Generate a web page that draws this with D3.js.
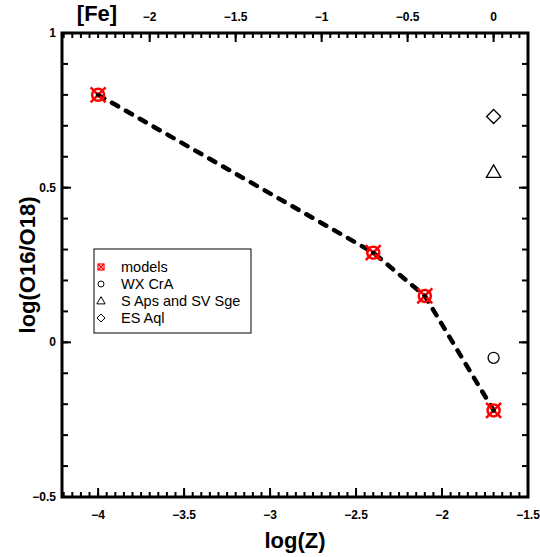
<!DOCTYPE html>
<html><head><meta charset="utf-8">
<script src="https://cdn.jsdelivr.net/npm/d3@7"></script>
</head><body style="margin:0;background:#fff">
<svg id="c" width="540" height="557" font-family="Arial, 'Liberation Sans', sans-serif"></svg>
<script>
const modelLogZ = [-4, -2.4, -2.1, -1.7];
const modelRatio = [0.80, 0.29, 0.15, -0.22];
const wxCrA = [[-1.7, -0.05]];
const sApsSvSge = [[-1.7, 0.55]];
const esAql = [[-1.7, 0.73]];
const xTicks = [-4, -3.5, -3, -2.5, -2, -1.5];
const feTicks = [-2, -1.5, -1, -0.5, 0];
const yTicks = [-0.5, 0, 0.5, 1];
const feOffset = 1.7;
const legendLabels = ["models", "WX CrA", "S Aps and SV Sge", "ES Aql"];

const svg = d3.select("#c");
const L = 62, R = 528, T = 33, B = 497;
const x = d3.scaleLinear().domain([-4.21, -1.5]).range([L, R]);
const xFe = d3.scaleLinear().domain([-4.21 + feOffset, -1.5 + feOffset]).range([L, R]);
const y = d3.scaleLinear().domain([-0.5, 1]).range([B, T]);

function minorVals(dom, step) {
  const a = [];
  const s = Math.ceil(dom[0] / step - 1e-9), e = Math.floor(dom[1] / step + 1e-9);
  for (let i = s; i <= e; i++) a.push(+(i * step).toFixed(4));
  return a;
}
const fmt = d3.format("");

// frame
svg.append("rect").attr("x", L).attr("y", T).attr("width", R - L).attr("height", B - T)
  .attr("fill", "none").attr("stroke", "#000").attr("stroke-width", 3);

function hTicks(scale, vals, yy, len) {
  svg.append("g").selectAll("line").data(vals).enter().append("line")
    .attr("x1", d => scale(d)).attr("x2", d => scale(d))
    .attr("y1", yy).attr("y2", yy + len)
    .attr("stroke", "#000").attr("stroke-width", 2);
}
function vTicks(scale, vals, xx, len) {
  svg.append("g").selectAll("line").data(vals).enter().append("line")
    .attr("y1", d => scale(d)).attr("y2", d => scale(d))
    .attr("x1", xx).attr("x2", xx + len)
    .attr("stroke", "#000").attr("stroke-width", 2);
}
hTicks(x, minorVals(x.domain(), 0.05), B, -5);
hTicks(x, xTicks, B, -9);
hTicks(xFe, minorVals(xFe.domain(), 0.05), T, 5);
hTicks(xFe, feTicks, T, 9);
vTicks(y, minorVals(y.domain(), 0.1), L, 6);
vTicks(y, yTicks, L, 9);
vTicks(y, minorVals(y.domain(), 0.1), R, -6);
vTicks(y, yTicks, R, -9);

// tick labels
svg.append("g").selectAll("text").data(xTicks).enter().append("text")
  .attr("x", d => x(d)).attr("y", 519).attr("text-anchor", "middle")
  .attr("font-size", 12).attr("font-weight", "bold").attr("fill", "#000").text(d => fmt(d));
svg.append("g").selectAll("text").data(feTicks).enter().append("text")
  .attr("x", d => xFe(d)).attr("y", 21).attr("text-anchor", "middle")
  .attr("font-size", 12).attr("font-weight", "bold").attr("fill", "#000").text(d => fmt(d));
svg.append("g").selectAll("text").data(yTicks).enter().append("text")
  .attr("x", 56).attr("y", d => y(d) + 4).attr("text-anchor", "end")
  .attr("font-size", 12).attr("font-weight", "bold").attr("fill", "#000").text(d => fmt(d));

// axis titles
svg.append("text").attr("x", (L + R) / 2).attr("y", 548).attr("text-anchor", "middle")
  .attr("font-size", 22).attr("font-weight", "bold").text("log(Z)");
svg.append("text").attr("transform", `translate(35,${(T + B) / 2}) rotate(-90)`).attr("text-anchor", "middle")
  .attr("font-size", 22).attr("font-weight", "bold").text("log(O16/O18)");
svg.append("text").attr("x", 97).attr("y", 21).attr("text-anchor", "middle")
  .attr("font-size", 22).attr("font-weight", "bold").text("[Fe]");

// model dashed line
const pts = modelLogZ.map((d, i) => [d, modelRatio[i]]);
svg.append("path").datum(pts)
  .attr("d", d3.line().x(d => x(d[0])).y(d => y(d[1])))
  .attr("fill", "none").attr("stroke", "#000").attr("stroke-width", 4.5)
  .attr("stroke-dasharray", "7,9").attr("stroke-linecap", "round");

function modelMarker(sel, cx, cy, r) {
  sel.append("circle").attr("cx", cx).attr("cy", cy).attr("r", r)
    .attr("fill", "none").attr("stroke", "#f00").attr("stroke-width", 2.5);
  const k = r * 1.25;
  sel.append("path").attr("d", `M${cx - k},${cy - k}L${cx + k},${cy + k}M${cx - k},${cy + k}L${cx + k},${cy - k}`)
    .attr("stroke", "#f00").attr("stroke-width", 2.5);
  sel.append("circle").attr("cx", cx).attr("cy", cy).attr("r", 2.2).attr("fill", "#000");
}
const mg = svg.append("g");
pts.forEach(d => modelMarker(mg, x(d[0]), y(d[1]), 6));

svg.selectAll(".wx").data(wxCrA).enter().append("circle")
  .attr("cx", d => x(d[0])).attr("cy", d => y(d[1])).attr("r", 5.5)
  .attr("fill", "none").attr("stroke", "#000").attr("stroke-width", 1.3);
const tri = d3.symbol().type(d3.symbolTriangle).size(90);
svg.selectAll(".sa").data(sApsSvSge).enter().append("path")
  .attr("transform", d => `translate(${x(d[0])},${y(d[1]) + 1})`).attr("d", tri)
  .attr("fill", "none").attr("stroke", "#000").attr("stroke-width", 1.3);
svg.selectAll(".es").data(esAql).enter().append("path")
  .attr("transform", d => `translate(${x(d[0])},${y(d[1])})`)
  .attr("d", "M0,-7L7,0L0,7L-7,0Z")
  .attr("fill", "none").attr("stroke", "#000").attr("stroke-width", 1.3);

// legend
const lg = svg.append("g");
lg.append("rect").attr("x", 94).attr("y", 249).attr("width", 157).attr("height", 84)
  .attr("fill", "#fff").attr("stroke", "#000").attr("stroke-width", 1);
const ly0 = 267, dy = 17, sx = 101, tx0 = 121;
lg.append("rect").attr("x", sx - 3).attr("y", ly0 - 3).attr("width", 6).attr("height", 6)
  .attr("fill", "none").attr("stroke", "#f00").attr("stroke-width", 1.2);
lg.append("path").attr("d", `M${sx - 3},${ly0 - 3}L${sx + 3},${ly0 + 3}M${sx - 3},${ly0 + 3}L${sx + 3},${ly0 - 3}`)
  .attr("stroke", "#f00").attr("stroke-width", 1.2);
lg.append("circle").attr("cx", sx).attr("cy", ly0 + dy).attr("r", 3)
  .attr("fill", "none").attr("stroke", "#000").attr("stroke-width", 1);
lg.append("path").attr("transform", `translate(${sx},${ly0 + 2 * dy + 0.5})`)
  .attr("d", d3.symbol().type(d3.symbolTriangle).size(30))
  .attr("fill", "none").attr("stroke", "#000").attr("stroke-width", 1);
lg.append("path").attr("transform", `translate(${sx},${ly0 + 3 * dy})`)
  .attr("d", "M0,-4L4,0L0,4L-4,0Z")
  .attr("fill", "none").attr("stroke", "#000").attr("stroke-width", 1);
legendLabels.forEach((t, i) => {
  lg.append("text").attr("x", tx0).attr("y", ly0 + i * dy + 5).attr("font-size", 14.5).text(t);
});
</script>
</body></html>
